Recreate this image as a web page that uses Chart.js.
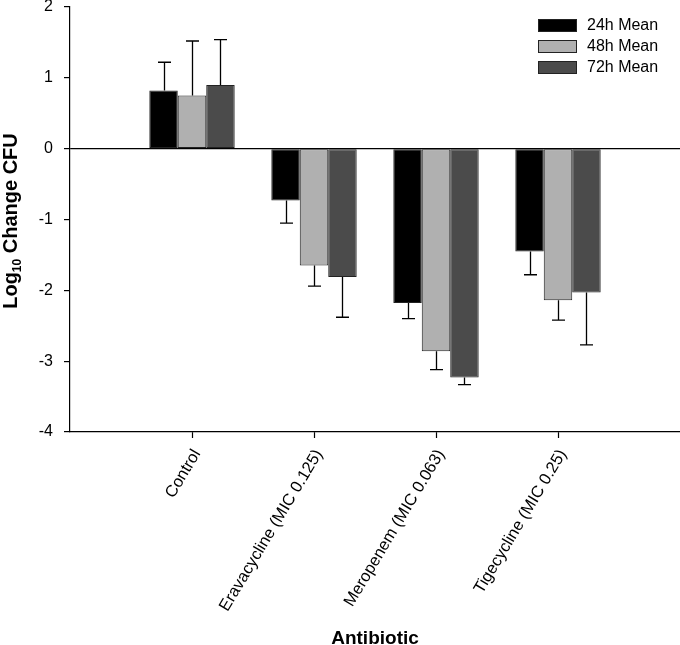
<!DOCTYPE html>
<html>
<head>
<meta charset="utf-8">
<script src="https://cdn.jsdelivr.net/npm/chart.js@4.4.1/dist/chart.umd.min.js"></script>
<style>
html,body{margin:0;padding:0;background:#fff;}
#wrap{width:680px;height:645px;position:relative;}
</style>
</head>
<body>
<div id="wrap"><canvas id="c" width="680" height="645"></canvas></div>
<script>
const categories = ['Control', 'Eravacycline (MIC 0.125)', 'Meropenem (MIC 0.063)', 'Tigecycline (MIC 0.25)'];
const seriesNames = ['24h Mean', '48h Mean', '72h Mean'];
const mean24 = [0.82, -0.73, -2.18, -1.45];
const mean48 = [0.75, -1.65, -2.86, -2.14];
const mean72 = [0.90, -1.81, -3.23, -2.03];
const err24 = [0.40, 0.32, 0.22, 0.33];
const err48 = [0.77, 0.29, 0.26, 0.28];
const err72 = [0.64, 0.57, 0.10, 0.74];
const yTicks = [2, 1, 0, -1, -2, -3, -4];
const colors = ['#000000', '#b0b0b0', '#4b4b4b'];

const FONT = '"Liberation Sans", Arial, sans-serif';
const labels = [''].concat(categories, ['']);
const pad = arr => [null].concat(arr, [null]);
const means = [mean24, mean48, mean72];
const errs = [err24, err48, err72];

const datasets = means.map((m, i) => ({
  label: seriesNames[i],
  data: pad(m),
  errors: pad(errs[i]),
  backgroundColor: colors[i],
  borderColor: '#222',
  borderWidth: 1,
  borderSkipped: false,
  barPercentage: 1,
  categoryPercentage: 0.7
}));

const errorBars = {
  id: 'errorBars',
  afterDatasetsDraw(chart) {
    const ctx = chart.ctx;
    const y = chart.scales.y;
    ctx.save();
    ctx.strokeStyle = '#000';
    ctx.lineWidth = 1.3;
    chart.data.datasets.forEach((ds, i) => {
      const meta = chart.getDatasetMeta(i);
      meta.data.forEach((el, j) => {
        const v = ds.data[j];
        const e = ds.errors[j];
        if (v === null || e === null) return;
        const end = v >= 0 ? v + e : v - e;
        const y0 = y.getPixelForValue(v);
        const y1 = y.getPixelForValue(end);
        const x = Math.round(el.x) + 0.5;
        ctx.beginPath();
        ctx.moveTo(x, y0);
        ctx.lineTo(x, y1);
        ctx.moveTo(x - 6.5, y1);
        ctx.lineTo(x + 6.5, y1);
        ctx.stroke();
      });
    });
    ctx.restore();
  }
};

const decorations = {
  id: 'decorations',
  afterDraw(chart) {
    const ctx = chart.ctx;
    const area = chart.chartArea;
    ctx.save();
    ctx.fillStyle = '#000';
    ctx.translate(10, 221);
    ctx.rotate(-Math.PI / 2);
    const big = 'bold 20px ' + FONT, small = 'bold 12px ' + FONT;
    ctx.font = big; const w1 = ctx.measureText('Log').width; const w3 = ctx.measureText(' Change CFU').width;
    ctx.font = small; const w2 = ctx.measureText('10').width;
    let x = -(w1 + w2 + w3) / 2;
    ctx.textBaseline = 'alphabetic';
    ctx.textAlign = 'left';
    ctx.font = big; ctx.fillText('Log', x, 7); x += w1;
    ctx.font = small; ctx.fillText('10', x, 11); x += w2;
    ctx.font = big; ctx.fillText(' Change CFU', x, 7);
    ctx.restore();

    ctx.save();
    ctx.fillStyle = '#000';
    ctx.font = 'bold 19px ' + FONT;
    ctx.textAlign = 'center';
    ctx.textBaseline = 'alphabetic';
    ctx.fillText('Antibiotic', (area.left + area.right) / 2, 644);
    ctx.restore();

    ctx.save();
    ctx.font = '16px ' + FONT;
    ctx.textBaseline = 'middle';
    ctx.textAlign = 'left';
    chart.data.datasets.forEach((ds, i) => {
      const cy = 25.5 + i * 21;
      ctx.fillStyle = ds.backgroundColor;
      ctx.fillRect(538, cy - 6.5, 39, 13);
      ctx.strokeStyle = '#222';
      ctx.lineWidth = 1;
      ctx.strokeRect(538.5, cy - 6, 38, 12);
      ctx.fillStyle = '#000';
      ctx.fillText(ds.label, 587, cy);
    });
    ctx.restore();
  }
};

new Chart(document.getElementById('c'), {
  type: 'bar',
  data: { labels: labels, datasets: datasets },
  options: {
    responsive: false,
    animation: false,
    layout: { padding: { top: 7, right: 0, left: 0, bottom: 0 } },
    plugins: { legend: { display: false }, tooltip: { enabled: false } },
    scales: {
      x: {
        type: 'category',
        offset: false,
        afterFit(s) { s.height = 213; s.paddingLeft = 0; s.paddingRight = 0; },
        border: { display: true, color: '#000', width: 1.2 },
        grid: {
          offset: false,
          drawOnChartArea: false,
          drawTicks: true,
          tickLength: 6,
          tickColor: c => (c.index === 0 || c.index === labels.length - 1) ? 'rgba(0,0,0,0)' : '#000',
          tickWidth: 1.2
        },
        ticks: {
          autoSkip: false,
          minRotation: 59,
          maxRotation: 59,
          padding: 8,
          labelOffset: 5,
          color: '#000',
          font: { family: FONT, size: 16.5 }
        }
      },
      y: {
        min: -4,
        max: 2,
        afterFit(s) { s.width = 70; s.paddingTop = 0; s.paddingBottom = 0; },
        afterBuildTicks(s) { s.ticks = yTicks.map(v => ({ value: v })); },
        border: { display: true, color: '#000', width: 1.2 },
        grid: {
          drawOnChartArea: true,
          color: c => (c.tick && c.tick.value === 0) ? '#000' : 'rgba(0,0,0,0)',
          lineWidth: 1.2,
          tickColor: '#000',
          tickLength: 6,
          drawTicks: true
        },
        ticks: {
          color: '#000',
          padding: 11,
          font: { family: FONT, size: 16 }
        }
      }
    }
  },
  plugins: [errorBars, decorations]
});
</script>
</body>
</html>
